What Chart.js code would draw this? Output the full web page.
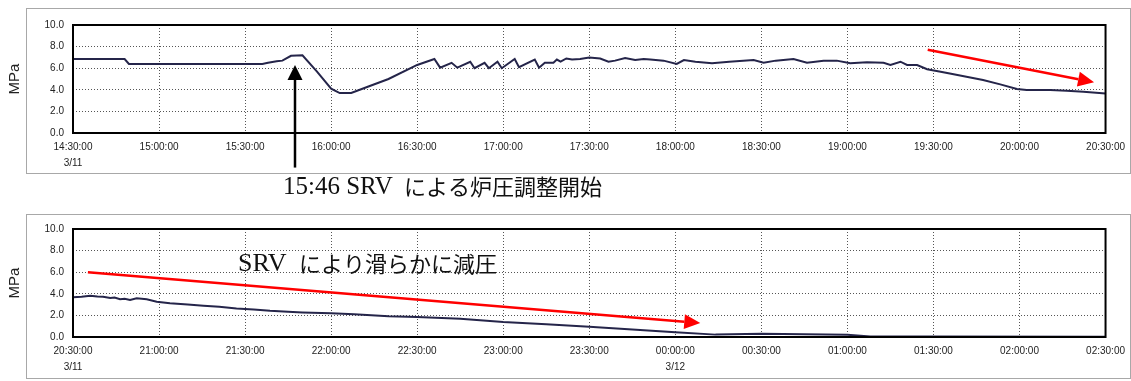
<!DOCTYPE html>
<html>
<head>
<meta charset="utf-8">
<script src="https://cdn.jsdelivr.net/npm/chart.js@4.4.1/dist/chart.umd.min.js"></script>
<style>
body { margin: 0; background: #fff; }
#wrap { position: relative; width: 1131px; height: 381px; overflow: hidden; }
.frame { position: absolute; border: 1px solid #a8a8a8; }
canvas { position: absolute; left: 0; }
</style>
</head>
<body>
<div id="wrap">
  <div class="frame" style="left:26px;top:8px;width:1103px;height:164px"></div>
  <div class="frame" style="left:26px;top:214px;width:1103px;height:163px"></div>
  <canvas id="topChart" width="1131" height="200" style="top:0"></canvas>
  <canvas id="bottomChart" width="1131" height="181" style="top:200px"></canvas>
</div>
<script>
// minutes after the first tick, pressure in MPa
var topMinutes = [0, 18, 19.5, 66, 68, 71, 73, 76, 80, 85, 90, 93, 97, 103, 110, 120, 126, 128, 132, 134,
  138.5, 140, 143.5, 145, 148, 149.5, 154, 155.5, 161, 162.5, 164.5, 167.5, 168.7, 170, 172, 174,
  176.8, 180, 183.8, 186.7, 189, 192.5, 196, 199, 201.3, 205.9, 210.5, 213, 217, 222.8, 228.8,
  237.3, 240.8, 245, 251.2, 255.9, 261.7, 266.3, 271, 276.8, 282.6, 285, 288.5, 290.8, 294.3,
  297.8, 302.5, 305.7, 311.5, 317.3, 323.3, 329.1, 332.5, 340.7, 346.5, 352.3, 360];
var topMPa = [6.85, 6.85, 6.4, 6.4, 6.5, 6.65, 6.7, 7.15, 7.2, 5.7, 4.1, 3.7, 3.7, 4.3, 5.0, 6.3, 6.85, 6.05, 6.5, 6.05,
  6.6, 6.0, 6.5, 6.0, 6.6, 6.0, 6.85, 6.1, 6.8, 6.05, 6.5, 6.5, 6.8, 6.6, 6.9, 6.8,
  6.85, 7.0, 6.9, 6.6, 6.7, 6.95, 6.75, 6.85, 6.8, 6.7, 6.4, 6.75, 6.6, 6.45, 6.6,
  6.75, 6.5, 6.7, 6.85, 6.5, 6.7, 6.7, 6.45, 6.55, 6.5, 6.3, 6.6, 6.3, 6.3,
  5.9, 5.68, 5.5, 5.2, 4.9, 4.5, 4.07, 3.98, 3.98, 3.92, 3.83, 3.65];

var bottomMinutes = [0, 3, 6, 8.5, 10.5, 13, 14.5, 16.4, 18, 19.9, 22.2, 25.7, 29.2, 33.8, 40, 45.5, 51, 57, 63,
  68.7, 75, 80, 90, 98, 110, 120, 135, 150, 165, 180, 195, 210, 224, 240, 255, 270, 278, 300, 360];
var bottomMPa = [3.67, 3.72, 3.83, 3.75, 3.73, 3.62, 3.66, 3.5, 3.55, 3.43, 3.58, 3.49, 3.27, 3.12, 3.0, 2.9, 2.8, 2.65, 2.55,
  2.42, 2.33, 2.27, 2.2, 2.1, 1.93, 1.85, 1.68, 1.38, 1.18, 0.96, 0.7, 0.43, 0.22, 0.3, 0.25, 0.2, 0.05, 0.04, 0.03];

var topTicks = ['14:30:00', '15:00:00', '15:30:00', '16:00:00', '16:30:00', '17:00:00', '17:30:00',
  '18:00:00', '18:30:00', '19:00:00', '19:30:00', '20:00:00', '20:30:00'];
var topDates = ['3/11', '', '', '', '', '', '', '', '', '', '', '', ''];
var bottomTicks = ['20:30:00', '21:00:00', '21:30:00', '22:00:00', '22:30:00', '23:00:00', '23:30:00',
  '00:00:00', '00:30:00', '01:00:00', '01:30:00', '02:00:00', '02:30:00'];
var bottomDates = ['3/11', '', '', '', '', '', '', '3/12', '', '', '', '', ''];

Chart.defaults.font.family = '"Liberation Sans", Arial, sans-serif';
Chart.defaults.color = '#222';

var annotate = {
  id: 'annotate',
  afterDatasetsDraw: function (chart, args, opts) {
    var ctx = chart.ctx, a = chart.chartArea, xs = chart.scales.x, ys = chart.scales.y;
    ctx.save();
    ctx.lineWidth = 2;
    ctx.strokeStyle = '#000';
    ctx.strokeRect(a.left, a.top, a.right - a.left, a.bottom - a.top);
    (opts.arrows || []).forEach(function (ar) {
      var x1 = xs.getPixelForValue(ar.from[0]), y1 = ys.getPixelForValue(ar.from[1]);
      var x2 = xs.getPixelForValue(ar.to[0]), y2 = ys.getPixelForValue(ar.to[1]);
      var ang = Math.atan2(y2 - y1, x2 - x1);
      var bx = x2 - ar.head * Math.cos(ang), by = y2 - ar.head * Math.sin(ang);
      var hw = ar.headWidth / 2;
      ctx.strokeStyle = ar.color;
      ctx.fillStyle = ar.color;
      ctx.lineWidth = ar.width;
      ctx.beginPath();
      ctx.moveTo(x1, y1);
      ctx.lineTo(bx, by);
      ctx.stroke();
      ctx.beginPath();
      ctx.moveTo(x2, y2);
      ctx.lineTo(bx + hw * Math.sin(ang), by - hw * Math.cos(ang));
      ctx.lineTo(bx - hw * Math.sin(ang), by + hw * Math.cos(ang));
      ctx.closePath();
      ctx.fill();
    });
    (opts.texts || []).forEach(function (t) {
      ctx.font = t.font;
      ctx.fillStyle = '#111';
      ctx.textAlign = 'left';
      ctx.textBaseline = 'middle';
      ctx.fillText(t.text, t.x, t.y);
    });
    ctx.restore();
  }
};

function makeChart(id, minutes, values, ticks, dates, padding, marks) {
  var points = minutes.map(function (m, i) { return { x: m, y: values[i] }; });
  return new Chart(document.getElementById(id), {
    type: 'line',
    data: {
      datasets: [{
        data: points,
        borderColor: '#25254a',
        borderWidth: 2,
        pointRadius: 0,
        tension: 0
      }]
    },
    options: {
      responsive: false,
      animation: false,
      layout: { padding: padding },
      plugins: {
        legend: { display: false },
        tooltip: { enabled: false },
        annotate: marks
      },
      scales: {
        x: {
          type: 'linear',
          min: 0,
          max: 360,
          afterFit: function (s) { s.height = 40; },
          grid: { color: '#555', lineWidth: 1, drawTicks: false },
          border: { display: false, dash: [1, 2] },
          ticks: {
            stepSize: 30,
            autoSkip: false,
            maxRotation: 0,
            padding: 6,
            font: { size: 10, lineHeight: 1.6 },
            callback: function (v, i) {
              return dates[i] ? [ticks[i], dates[i]] : ticks[i];
            }
          }
        },
        y: {
          min: 0,
          max: 10,
          afterFit: function (s) { s.width = 73; },
          grid: { color: '#555', lineWidth: 1, drawTicks: false },
          border: { display: false, dash: [1, 2] },
          ticks: {
            stepSize: 2,
            padding: 9,
            font: { size: 10 },
            callback: function (v) { return v.toFixed(1); }
          },
          title: {
            display: true,
            text: 'MPa',
            color: '#222',
            font: { size: 15 },
            padding: { top: 6, bottom: 0 }
          }
        }
      }
    },
    plugins: [annotate]
  });
}

makeChart('topChart', topMinutes, topMPa, topTicks, topDates,
  { top: 25, right: 25, bottom: 27, left: 0 },
  {
    arrows: [
      { from: [77.4, -3.2], to: [77.4, 6.3], width: 2.5, head: 15, headWidth: 15, color: '#000' },
      { from: [298, 7.7], to: [356, 4.7], width: 2.5, head: 16, headWidth: 15, color: '#f00' }
    ],
    texts: [
      { text: '15:46 SRV', x: 283, y: 187, font: '25px "Liberation Serif", serif' },
      { text: 'による炉圧調整開始', x: 404, y: 187, font: '22px "Noto Sans CJK JP", sans-serif' }
    ]
  });

makeChart('bottomChart', bottomMinutes, bottomMPa, bottomTicks, bottomDates,
  { top: 29, right: 25, bottom: 4, left: 0 },
  {
    arrows: [
      { from: [5.2, 6.0], to: [218.7, 1.3], width: 2.5, head: 16, headWidth: 15, color: '#f00' }
    ],
    texts: [
      { text: 'SRV', x: 238, y: 64, font: '26px "Liberation Serif", serif' },
      { text: 'により滑らかに減圧', x: 299, y: 64, font: '22px "Noto Sans CJK JP", sans-serif' }
    ]
  });
</script>
</body>
</html>
